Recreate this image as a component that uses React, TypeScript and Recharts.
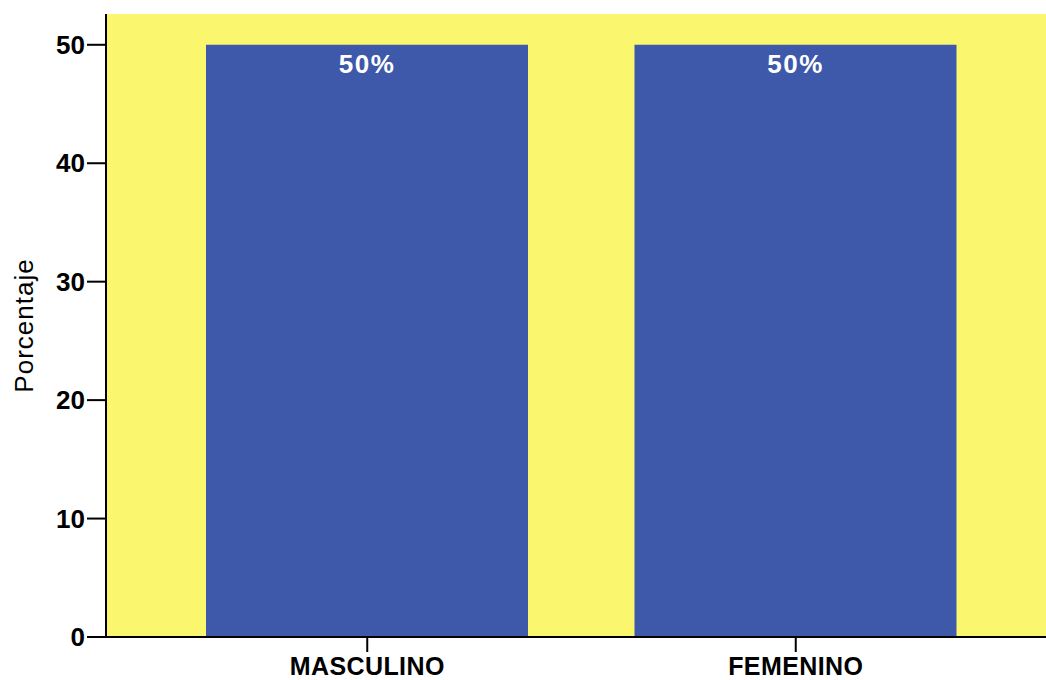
import { BarChart, Bar, XAxis, YAxis, LabelList, CartesianGrid } from "recharts";

const categories = ["MASCULINO", "FEMENINO"];
const percentages = [50, 50];
const yTicks = [0, 10, 20, 30, 40, 50];

const data = categories.map((name, i) => ({ name, value: percentages[i] }));

const FONT = "'Liberation Sans', Arial, sans-serif";

export default function App() {
  return (
    <div style={{ position: "absolute", left: 0, top: 0, width: 1046, height: 680, background: "#fff" }}>
      <BarChart
        width={1046}
        height={680}
        data={data}
        margin={{ top: 14, right: 0, left: 0, bottom: 0 }}
        barSize={322}
      >
        {/* yellow plot area */}
        <CartesianGrid fill="#faf76f" horizontal={false} vertical={false} />
        {/* grey top border of the plot */}
        <XAxis
          xAxisId="top"
          orientation="top"
          dataKey="name"
          height={0}
          tick={false}
          tickLine={false}
          stroke="#7a7a6a"
          strokeWidth={2}
        />
        <XAxis
          dataKey="name"
          padding={{ left: 47, right: 36 }}
          height={43}
          tickSize={15}
          tickMargin={5}
          stroke="#000"
          strokeWidth={2}
          tick={{ fill: "#000", fontSize: 25, fontWeight: 700, fontFamily: FONT, letterSpacing: 0.4 }}
        />
        <YAxis
          domain={[0, 52.6]}
          ticks={yTicks}
          width={106}
          tickSize={19}
          tickMargin={2}
          stroke="#000"
          strokeWidth={2}
          allowDataOverflow
          tick={{ fill: "#000", fontSize: 26, fontWeight: 700, fontFamily: FONT }}
          label={{
            value: "Porcentaje",
            angle: -90,
            position: "insideLeft",
            offset: 24,
            style: { fill: "#000", fontSize: 26, fontFamily: FONT, textAnchor: "middle", letterSpacing: 1 },
          }}
        />
        <Bar dataKey="value" fill="#3e59aa" isAnimationActive={false}>
          <LabelList
            dataKey="value"
            position="insideTop"
            offset={10}
            formatter={(v: any) => `${v}%`}
            style={{ fill: "#fff", fontSize: 26, fontWeight: 700, fontFamily: FONT, letterSpacing: 1.5 }}
          />
        </Bar>
      </BarChart>
    </div>
  );
}
